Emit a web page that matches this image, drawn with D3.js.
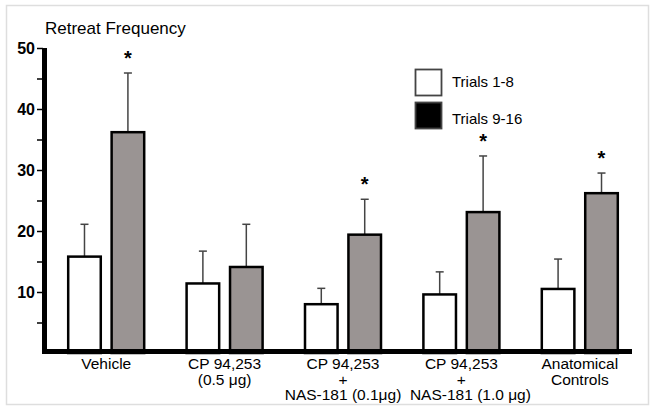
<!DOCTYPE html>
<html>
<head>
<meta charset="utf-8">
<script src="https://cdnjs.cloudflare.com/ajax/libs/d3/7.8.5/d3.min.js"></script>
<style>
  html, body { margin: 0; padding: 0; background: #fff; }
  svg { display: block; font-family: "Liberation Sans", Arial, Helvetica, sans-serif; }
</style>
</head>
<body>
<svg id="chart" width="654" height="412"></svg>
<script>
// ---- data ----
const categories = ["Vehicle", "CP05", "NAS01", "NAS10", "Anat"];
const categoryLabels = [
  ["Vehicle"],
  ["CP 94,253", "(0.5 μg)"],
  ["CP 94,253", "+", "NAS-181 (0.1μg)"],
  ["CP 94,253", "+", "NAS-181 (1.0 μg)"],
  ["Anatomical", "Controls"]
];
const series = ["Trials 1-8", "Trials 9-16"];
const trials1to8 = [15.8, 11.4, 8.0, 9.6, 10.5];
const sem1to8 = [5.3, 5.3, 2.6, 3.7, 4.9];
const trials9to16 = [36.2, 14.1, 19.4, 23.1, 26.2];
const sem9to16 = [9.7, 7.0, 5.8, 9.2, 3.3];
const significant = [true, false, true, true, true];
const majorTicks = [10, 20, 30, 40, 50];
const minorTicks = [5, 15, 25, 35, 45];

const fills = {"Trials 1-8": "#ffffff", "Trials 9-16": "#9a9493"};
const legendFills = {"Trials 1-8": "#ffffff", "Trials 9-16": "#000000"};

const svg = d3.select("#chart");

// frame
svg.append("rect").attr("x", 6.5).attr("y", 5.5).attr("width", 642).attr("height", 399)
  .attr("fill", "none").attr("stroke", "#dedede").attr("stroke-width", 1.5);

const y = d3.scaleLinear().domain([0, 50]).range([353, 48]);
const x0 = d3.scaleBand().domain(categories).range([47, 639]);
const x1 = d3.scaleBand().domain(series).range([-38, 38]).paddingInner(0.25);

const rows = categories.map((c, i) => ({
  cat: c,
  sig: significant[i],
  bars: [
    {s: series[0], v: trials1to8[i], e: sem1to8[i]},
    {s: series[1], v: trials9to16[i], e: sem9to16[i]}
  ]
}));

const g = svg.append("g");
const groups = g.selectAll("g.grp").data(rows).join("g")
  .attr("class", "grp")
  .attr("transform", d => `translate(${x0(d.cat) + x0.bandwidth() / 2},0)`);

// error bars (upward only)
groups.selectAll("line.err").data(d => d.bars).join("line")
  .attr("x1", d => x1(d.s) + x1.bandwidth() / 2)
  .attr("x2", d => x1(d.s) + x1.bandwidth() / 2)
  .attr("y1", d => y(d.v))
  .attr("y2", d => y(d.v + d.e))
  .attr("stroke", "#444").attr("stroke-width", 1.5);
groups.selectAll("line.cap").data(d => d.bars).join("line")
  .attr("x1", d => x1(d.s) + x1.bandwidth() / 2 - 4)
  .attr("x2", d => x1(d.s) + x1.bandwidth() / 2 + 4)
  .attr("y1", d => y(d.v + d.e))
  .attr("y2", d => y(d.v + d.e))
  .attr("stroke", "#444").attr("stroke-width", 1.5);

// bars
groups.selectAll("rect.bar").data(d => d.bars).join("rect")
  .attr("x", d => x1(d.s))
  .attr("width", x1.bandwidth())
  .attr("y", d => y(d.v))
  .attr("height", d => y(0) - y(d.v))
  .attr("fill", d => fills[d.s])
  .attr("stroke", "#000").attr("stroke-width", 2.5);

// significance stars
groups.filter(d => d.sig).append("text")
  .attr("x", x1(series[1]) + x1.bandwidth() / 2)
  .attr("y", d => y(d.bars[1].v + d.bars[1].e) - 8)
  .attr("text-anchor", "middle")
  .attr("font-size", 20).attr("font-weight", "bold")
  .text("*");

// y axis
const yAxisMinor = d3.axisLeft(y).tickValues(minorTicks).tickSize(6).tickFormat("");
svg.append("g").attr("transform", "translate(43,0)").call(yAxisMinor)
  .call(a => a.select(".domain").remove())
  .call(a => a.selectAll("line").attr("stroke-width", 1.5));
const yAxis = d3.axisLeft(y).tickValues(majorTicks).tickSize(6).tickSizeOuter(0).tickPadding(2);
svg.append("g").attr("transform", "translate(43,0)").call(yAxis)
  .call(a => a.select(".domain").remove())
  .call(a => a.selectAll("line").attr("stroke-width", 1.5))
  .call(a => a.selectAll("text").attr("font-size", 16).attr("font-weight", "bold")
    .attr("fill", "#000").attr("font-family", "'Liberation Sans', Arial, sans-serif"));
svg.append("line").attr("x1", 44.5).attr("x2", 44.5).attr("y1", y(50)).attr("y2", 354)
  .attr("stroke", "#000").attr("stroke-width", 5);

// x axis
const xAxis = d3.axisBottom(x0).tickSize(0).tickSizeOuter(0).tickFormat("");
const xg = svg.append("g").attr("transform", "translate(0,351.5)").call(xAxis);
xg.select(".domain").remove();
xg.append("line").attr("x1", 42).attr("x2", 632).attr("y1", 0).attr("y2", 0)
  .attr("stroke", "#000").attr("stroke-width", 5);
xg.selectAll(".tick").each(function(d, i) {
  const t = d3.select(this).append("text")
    .attr("text-anchor", "middle").attr("fill", "#000")
    .attr("font-size", 15.5)
    .attr("font-family", "'Liberation Sans', Arial, sans-serif");
  categoryLabels[i].forEach((line, j) => {
    // last line of the fourth label sits a little to the right in the original
    const dx = (i === 3 && j === 2) ? 9 : 0;
    t.append("tspan").attr("x", dx).attr("y", 17.5 + j * 15.5).text(line);
  });
});

// title
svg.append("text").attr("x", 45).attr("y", 34).attr("font-size", 17).text("Retreat Frequency");

// legend
const lg = svg.append("g");
series.forEach((s, i) => {
  lg.append("rect").attr("x", 415.5).attr("y", 69.5 + i * 33).attr("width", 26).attr("height", 26)
    .attr("fill", legendFills[s]).attr("stroke", "#444").attr("stroke-width", 1.8);
  lg.append("text").attr("x", 452).attr("y", 87 + i * 36.5).attr("font-size", 15).text(s);
});
</script>
</body>
</html>
